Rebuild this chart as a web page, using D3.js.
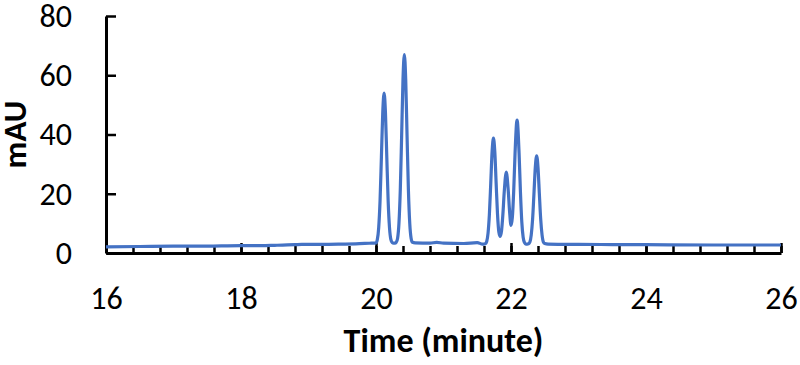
<!DOCTYPE html>
<html>
<head>
    <meta charset="utf-8">
    <title>Chromatogram</title>
    <script src="https://d3js.org/d3.v7.min.js"></script>
    <style>
        body { margin: 0; background: #fff; }
        svg text { font-family: Carlito, Lato, "Open Sans", sans-serif; fill: #000; }
    </style>
</head>
<body>
    <svg width="800" height="365"></svg>
    <script>
        // Retention time (minutes) and absorbance (mAU)
        const time = [
            16.0, 16.5, 17.0, 17.5, 18.0, 18.3, 18.5, 18.8, 18.9, 19.2, 19.5, 19.7, 19.9,
            20.00, 20.02, 20.04, 20.06, 20.08, 20.10, 20.12, 20.14, 20.16, 20.18, 20.20, 20.22, 20.24,
            20.26, 20.28, 20.30, 20.32, 20.34, 20.36, 20.38, 20.40, 20.42, 20.44, 20.46, 20.48, 20.50,
            20.52, 20.54, 20.58, 20.8, 20.9, 21.0, 21.3, 21.5, 21.58,
            21.60, 21.62, 21.64, 21.66, 21.68, 21.70, 21.72, 21.74, 21.76, 21.78, 21.80, 21.82, 21.84,
            21.86, 21.88, 21.90, 21.93, 21.96, 21.98, 22.00, 22.02, 22.04, 22.06, 22.09, 22.12, 22.14,
            22.16, 22.18, 22.20, 22.22, 22.24, 22.26, 22.28, 22.30, 22.32, 22.34, 22.36, 22.38, 22.40,
            22.42, 22.44, 22.46, 22.48, 22.50, 22.55, 23.0, 23.5, 24.0, 25.0, 26.0
        ];
        const mAU = [
            2.1, 2.2, 2.3, 2.35, 2.5, 2.5, 2.6, 2.8, 2.9, 2.9, 3.0, 3.1, 3.3,
            3.4, 4.6, 8.6, 17.6, 32.3, 47.4, 54.0, 47.4, 32.3, 17.6, 8.6, 4.6, 3.5,
            3.3, 3.3, 3.6, 5.0, 10.0, 21.4, 39.7, 58.7, 67.0, 58.7, 39.7, 21.4, 10.0,
            5.0, 3.6, 3.4, 3.3, 3.6, 3.3, 3.2, 3.5, 3.0,
            3.0, 3.1, 3.9, 6.7, 13.1, 23.5, 34.2, 38.8, 34.2, 23.5, 13.2, 7.1, 5.6,
            7.5, 13.1, 20.7, 27.3, 20.8, 13.7, 9.3, 12.0, 20.9, 33.6, 44.9, 33.5, 20.5,
            10.5, 5.3, 3.5, 3.0, 3.0, 3.1, 3.7, 6.1, 11.4, 20.0, 28.9, 32.8, 28.9,
            20.0, 11.4, 6.1, 3.7, 3.2, 3.0, 2.9, 2.85, 2.8, 2.7, 2.7
        ];

        const xMajor = [16, 18, 20, 22, 24, 26];
        const xMinor = d3.range(0, 26).map(i => 16 + i * 0.4);
        const yTicks = [0, 20, 40, 60, 80];

        const svg = d3.select("svg");

        const x = d3.scaleLinear().domain([16, 26]).range([106, 781]);
        const y = d3.scaleLinear().domain([0, 80]).range([253, 16]);

        // petits traits tous les 0.4 min
        svg.append("g")
            .attr("transform", "translate(0,253)")
            .call(d3.axisBottom(x).tickValues(xMinor).tickSize(-7).tickFormat(""))
            .call(g => g.select(".domain").remove())
            .call(g => g.selectAll("line").attr("stroke", "#000").attr("stroke-width", 2.5));

        // axe x principal
        svg.append("g")
            .attr("transform", "translate(0,253)")
            .call(d3.axisBottom(x).tickValues(xMajor).tickSize(-10).tickSizeOuter(0)
                .tickPadding(33).tickFormat(d3.format("d")))
            .call(g => g.select(".domain").attr("stroke", "#000").attr("stroke-width", 3))
            .call(g => g.selectAll("line").attr("stroke", "#000").attr("stroke-width", 2.5))
            .call(g => g.selectAll("text").attr("font-size", 32)
                .style("font-family", "Carlito, Lato, sans-serif"));

        // axe y
        svg.append("g")
            .attr("transform", "translate(106,0)")
            .call(d3.axisLeft(y).tickValues(yTicks).tickSize(-10).tickSizeOuter(0)
                .tickPadding(34).tickFormat(d3.format("d")))
            .call(g => g.select(".domain").attr("stroke", "#000").attr("stroke-width", 3))
            .call(g => g.selectAll("line").attr("stroke", "#000").attr("stroke-width", 2.5))
            .call(g => g.selectAll("text").attr("font-size", 32)
                .style("font-family", "Carlito, Lato, sans-serif"));

        // la courbe
        const pts = time.map((t, i) => [t, mAU[i]]);
        const line = d3.line()
            .x(d => x(d[0]))
            .y(d => y(d[1]))
            .curve(d3.curveMonotoneX);

        svg.append("path")
            .datum(pts)
            .attr("d", line)
            .attr("fill", "none")
            .attr("stroke", "#4472C4")
            .attr("stroke-width", 3.2)
            .attr("stroke-linejoin", "round");

        // titres des axes
        svg.append("text")
            .attr("x", 443.5)
            .attr("y", 352)
            .attr("text-anchor", "middle")
            .attr("font-size", 34)
            .attr("font-weight", "bold")
            .text("Time (minute)");

        svg.append("text")
            .attr("transform", "translate(26,134.5) rotate(-90)")
            .attr("text-anchor", "middle")
            .attr("font-size", 33)
            .attr("font-weight", "bold")
            .text("mAU");
    </script>
</body>
</html>
